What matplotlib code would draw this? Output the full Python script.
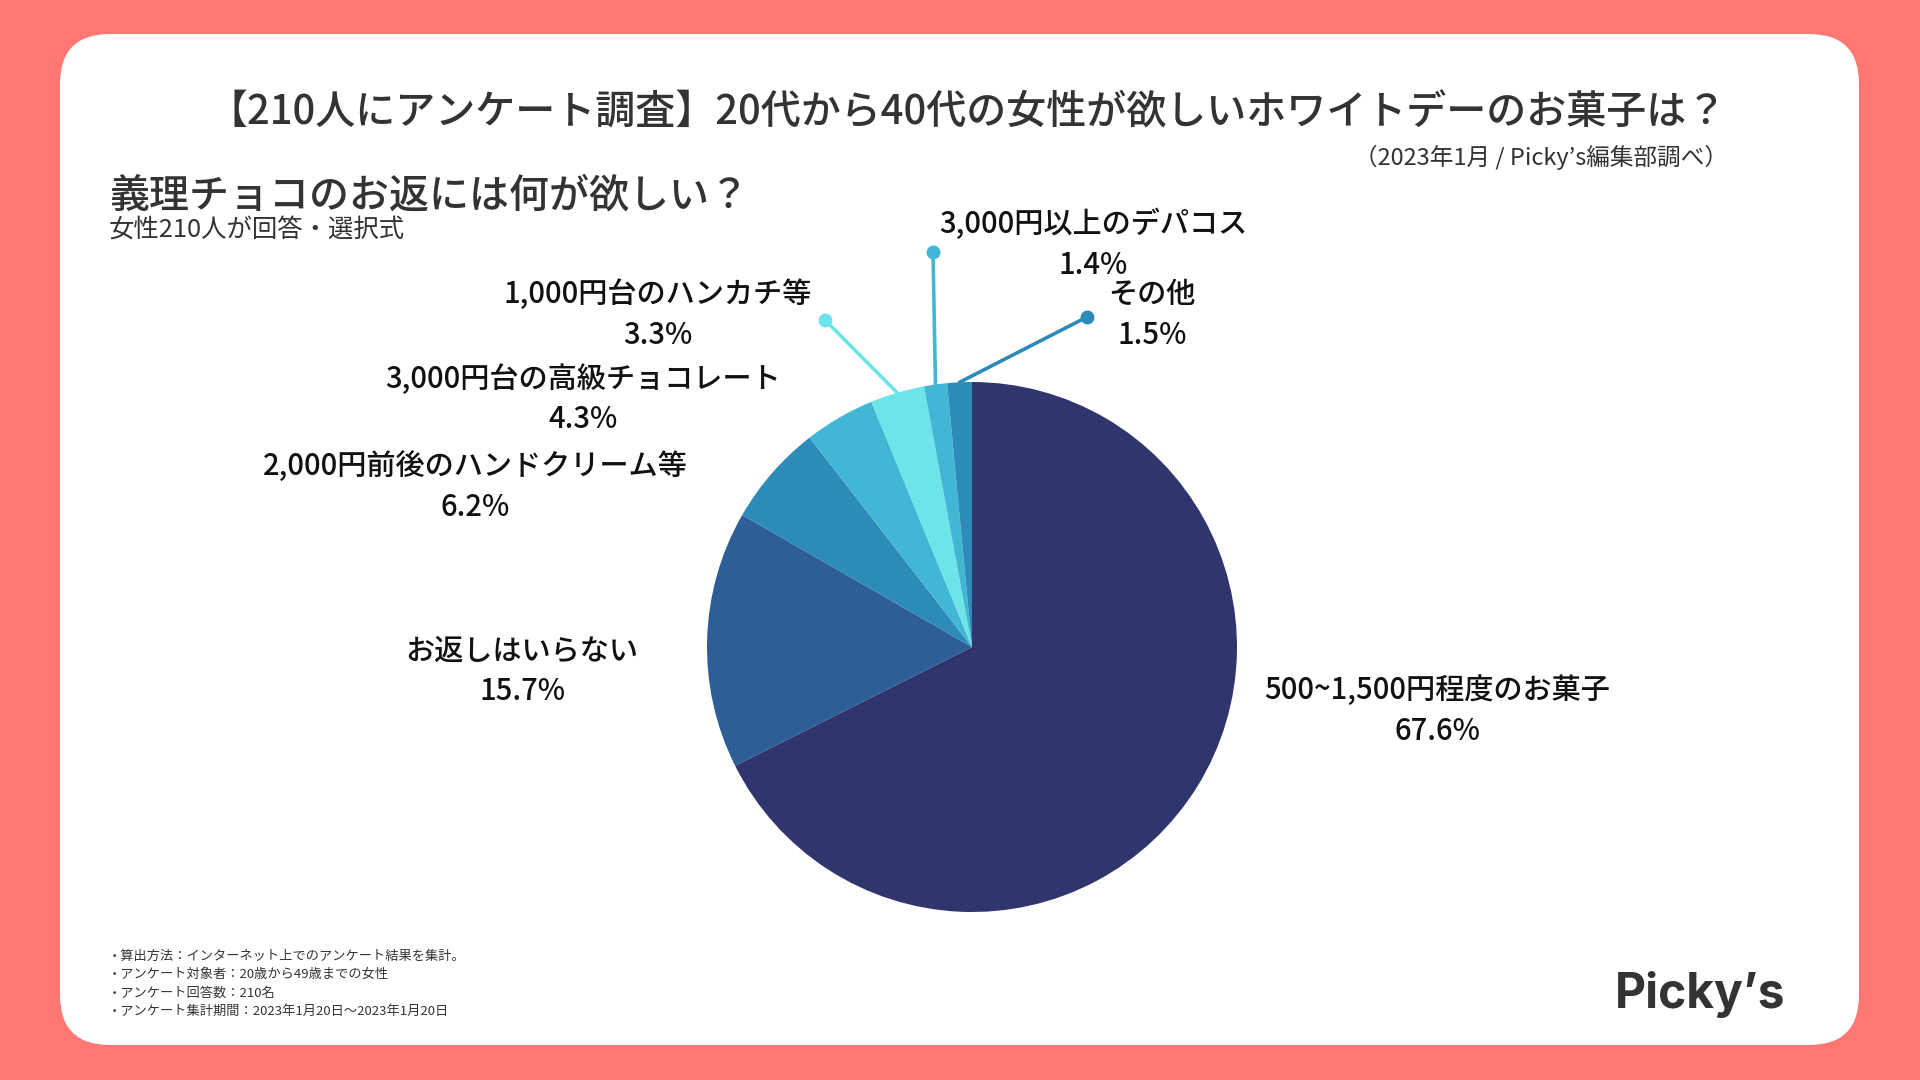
import matplotlib.pyplot as plt
from matplotlib.patches import FancyBboxPatch
import numpy as np

plt.rcParams['font.family'] = ['Noto Sans CJK JP', 'DejaVu Sans']

labels = ['500~1,500円程度のお菓子', 'お返しはいらない', '2,000円前後のハンドクリーム等',
          '3,000円台の高級チョコレート', '1,000円台のハンカチ等', '3,000円以上のデパコス', 'その他']
values = [67.6, 15.7, 6.2, 4.3, 3.3, 1.4, 1.5]
colors = ['#31356d', '#2e5e98', '#2d8bba', '#41b6d5', '#6ce4e8', '#41b6d5', '#2d8bba']

notes = ['・算出方法：インターネット上でのアンケート結果を集計。',
         '・アンケート対象者：20歳から49歳までの女性',
         '・アンケート回答数：210名',
         '・アンケート集計期間：2023年1月20日〜2023年1月20日']

# label centres (pixels from top-left), leader dots for the small slices
label_pos = [(1437, 710), (522, 671), (475, 486), (583, 399), (658, 314), (1093, 244), (1152, 314)]
dot_pos = [None, None, None, None, (825, 320), (933, 252), (1087, 317)]

H = 1080
fig = plt.figure(figsize=(19.2, 10.8), dpi=100, facecolor='#ff7773')
ax = fig.add_axes([0, 0, 1, 1])

card = FancyBboxPatch((60, H - 1045), 1799, 1011, boxstyle='round,pad=0,rounding_size=50',
                      facecolor='white', edgecolor='none')
ax.add_patch(card)

cx, cy, r = 972, H - 647, 265
wedges, _ = ax.pie(values, colors=colors, startangle=90, counterclock=False,
                   center=(cx, cy), radius=r, frame=True,
                   wedgeprops=dict(linewidth=0))
ax.set_xlim(0, 1920)
ax.set_ylim(0, H)
ax.axis('off')

for w, lab, v, pos, dot, col in zip(wedges, labels, values, label_pos, dot_pos, colors):
    x, y = pos
    ax.text(x, H - y + 20, lab, ha='center', va='center', fontsize=21,
            fontweight='medium', color='#111111')
    ax.text(x, H - y - 21, f'{v}%', ha='center', va='center', fontsize=21,
            fontweight='medium', color='#111111')
    if dot is not None:
        ang = np.deg2rad((w.theta1 + w.theta2) / 2)
        ex, ey = cx + r * np.cos(ang), cy + r * np.sin(ang)
        ax.plot([ex, dot[0]], [ey, H - dot[1]], color=col, lw=2.6, solid_capstyle='round', zorder=3)
        ax.plot(dot[0], H - dot[1], 'o', color=col, markersize=9, zorder=4)

ax.text(967, H - 113, '【210人にアンケート調査】20代から40代の女性が欲しいホワイトデーのお菓子は？',
        ha='center', va='center', fontsize=28.8, fontweight='medium', color='#333333')
ax.text(1728, H - 157, '（2023年1月 / Picky’s編集部調べ）', ha='right', va='center',
        fontsize=17, color='#333333')
ax.text(109, H - 196, '義理チョコのお返には何が欲しい？', ha='left', va='center',
        fontsize=28.8, fontweight='medium', color='#333333')
ax.text(109, H - 230, '女性210人が回答・選択式', ha='left', va='center',
        fontsize=18.3, color='#333333')

for i, n in enumerate(notes):
    ax.text(108, H - (956 + i * 18.5), n, ha='left', va='center', fontsize=9.5, color='#333333')

ax.text(1700, H - 994, 'Picky’s', ha='center', va='center', fontsize=34.5,
        fontweight='bold', family=['Inter', 'DejaVu Sans'], color='#333333')

fig.savefig('out.png', dpi=100, facecolor=fig.get_facecolor())
